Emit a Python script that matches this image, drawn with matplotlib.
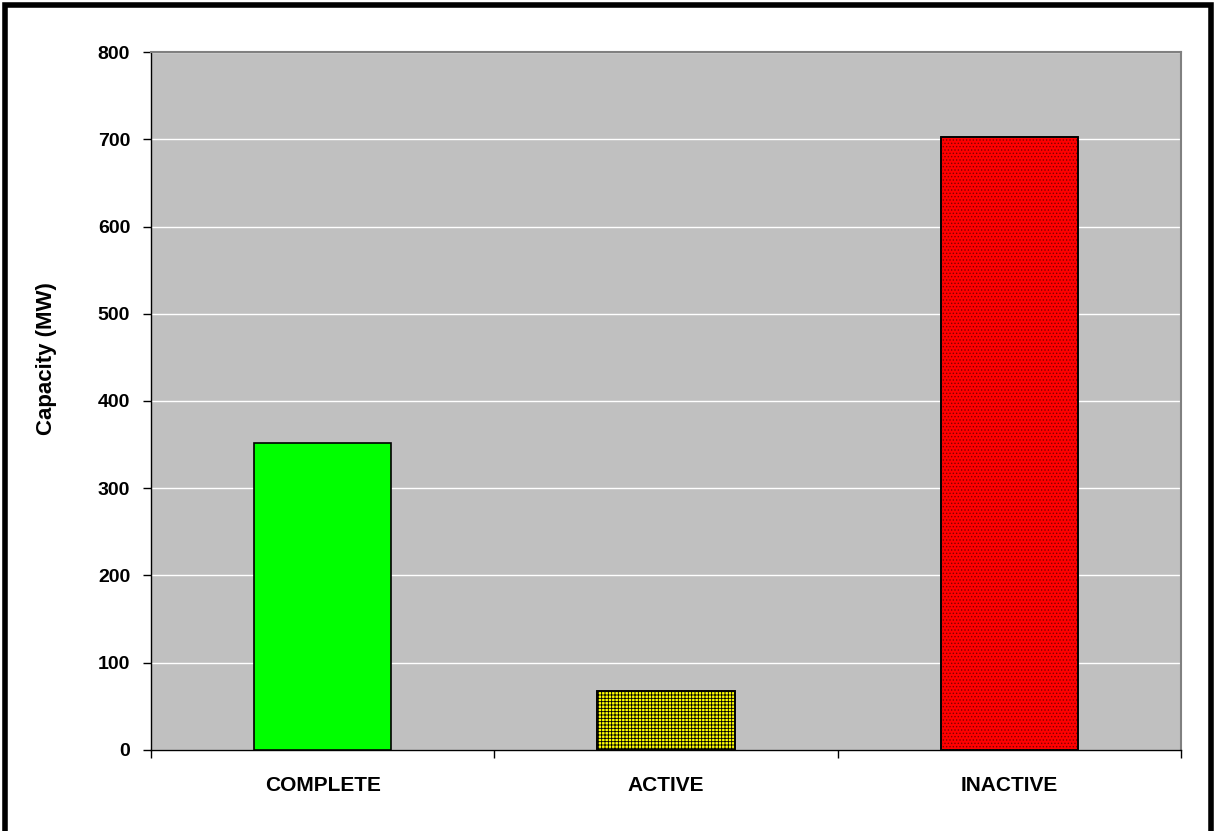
import matplotlib.pyplot as plt
from matplotlib.patches import Rectangle

# data
categories = ["COMPLETE", "ACTIVE", "INACTIVE"]
capacity = [352, 68, 703]
bar_colors = ["#00ff00", "#ffff00", "#ff0000"]
hatches = [None, "+++++", "....."]
hatch_colors = ["black", "black", "#800000"]
yticks = [0, 100, 200, 300, 400, 500, 600, 700, 800]

plt.rcParams['font.family'] = ['Liberation Sans', 'DejaVu Sans']
plt.rcParams['hatch.linewidth'] = 0.6

fig = plt.figure(figsize=(12.15, 8.31), dpi=100)
ax = fig.add_axes([0.1243, 0.0975, 0.8477, 0.8399])
ax.set_facecolor("#c0c0c0")

x = list(range(len(categories)))
for i in x:
    ax.bar(i, capacity[i], width=0.4, color=bar_colors[i], edgecolor="black",
           linewidth=1.2, zorder=3)
    if hatches[i]:
        ax.bar(i, capacity[i], width=0.4, color="none", hatch=hatches[i],
               edgecolor=hatch_colors[i], linewidth=0, zorder=4)
        ax.bar(i, capacity[i], width=0.4, color="none", edgecolor="black",
               linewidth=1.2, zorder=5)

ax.set_xlim(-0.5, 2.5)
ax.set_ylim(0, 800)
ax.set_yticks(yticks)
ax.set_yticklabels([str(v) for v in yticks], fontsize=14, fontweight="bold")
ax.yaxis.grid(True, color="white", linewidth=1)
ax.set_axisbelow(True)

# category labels centered, ticks at boundaries
ax.set_xticks([-0.5, 0.5, 1.5, 2.5])
ax.set_xticklabels([])
ax.set_xticks(x, minor=True)
ax.set_xticklabels(categories, minor=True, fontsize=15, fontweight="bold")
ax.tick_params(axis="x", which="minor", length=0, pad=19)
ax.tick_params(axis="x", which="major", length=6, width=1, color="black", direction="out")
ax.tick_params(axis="y", length=6, width=1, direction="out", pad=9)

# y label (sits a bit above the axis centre in the original)
fig.text(47 / 1215, 0.569, "Capacity (MW)", rotation=90, fontsize=16,
         fontweight="bold", ha="center", va="center")

for s in ["left", "bottom"]:
    ax.spines[s].set_color("black")
    ax.spines[s].set_linewidth(1)
for s in ["top", "right"]:
    ax.spines[s].set_color("#808080")
    ax.spines[s].set_linewidth(1.5)

# outer frame
fig.patches.append(Rectangle((0.0045, -0.01), 0.9925, 1.0045, transform=fig.transFigure,
                             fill=False, edgecolor="black", linewidth=4))

fig.savefig("out.png", dpi=100)
